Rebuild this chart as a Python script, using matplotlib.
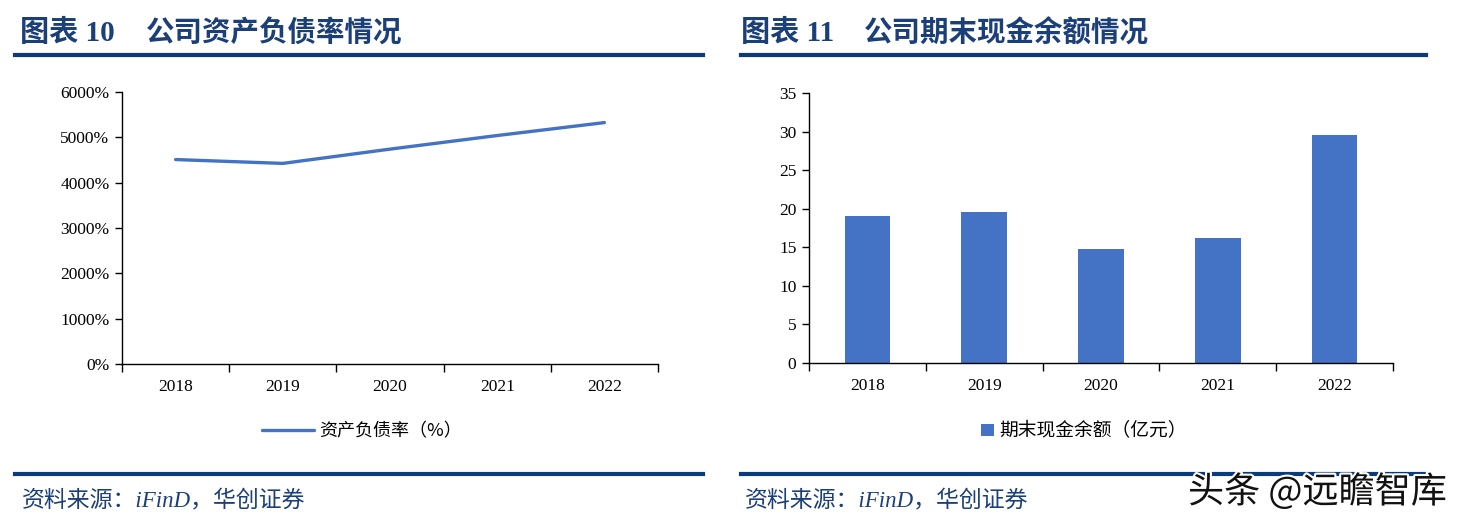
import matplotlib
matplotlib.use("Agg")
import matplotlib.pyplot as plt
from matplotlib.lines import Line2D
from matplotlib.ticker import FuncFormatter
import matplotlib.patheffects as pe

plt.rcParams['font.family'] = ['Liberation Serif', 'Noto Sans CJK SC']

years = ['2018', '2019', '2020', '2021', '2022']
debt_ratio = [4510, 4425, 4740, 5040, 5325]          # 资产负债率 (%)
cash_end = [19.0, 19.6, 14.8, 16.25, 29.5]           # 期末现金余额 (亿元)

blue = '#4472C4'
navy = '#1B3F78'
cjk = ['Noto Sans CJK SC', 'DejaVu Sans']

W, H = 1461, 532
fig = plt.figure(figsize=(W / 100, H / 100), dpi=100)


def fx(px):
    return px / W


def fy(py):
    return 1 - py / H


def style_axis(ax):
    ax.spines['top'].set_visible(False)
    ax.spines['right'].set_visible(False)
    ax.spines['left'].set_linewidth(1.0)
    ax.spines['bottom'].set_linewidth(1.0)
    ax.set_xlim(-0.5, len(years) - 0.5)
    ax.set_xticks([i - 0.5 for i in range(len(years) + 1)])
    ax.set_xticklabels([])
    ax.set_xticks(range(len(years)), minor=True)
    ax.set_xticklabels(years, minor=True)
    ax.tick_params(axis='x', which='major', direction='out', length=6, width=1)
    ax.tick_params(axis='x', which='minor', length=0, pad=11, labelsize=12.5)
    ax.tick_params(axis='y', direction='out', length=5, width=1, pad=4, labelsize=12.5)


# left: 资产负债率
ax1 = fig.add_axes([fx(122), fy(364), fx(658 - 122), (364 - 92) / H])
ax1.plot(range(len(years)), debt_ratio, color=blue, lw=2.4, solid_capstyle='round',
         label='资产负债率（%）')
ax1.set_ylim(0, 6000)
ax1.set_yticks(range(0, 6001, 1000))
ax1.yaxis.set_major_formatter(FuncFormatter(lambda v, p: '%d%%' % v))
style_axis(ax1)
ax1.legend(loc='center', bbox_to_anchor=(fx(362), fy(431)), bbox_transform=fig.transFigure,
           frameon=False, prop={'family': cjk, 'size': 13}, handlelength=2.9, handletextpad=0.3)

# right: 期末现金余额
ax2 = fig.add_axes([fx(809), fy(363), fx(1393 - 809), (363 - 93) / H])
ax2.bar(range(len(years)), cash_end, width=0.39, color=blue, label='期末现金余额（亿元）')
ax2.set_ylim(0, 35)
ax2.set_yticks(range(0, 36, 5))
style_axis(ax2)
ax2.legend(loc='center', bbox_to_anchor=(fx(1084), fy(431)), bbox_transform=fig.transFigure,
           frameon=False, prop={'family': cjk, 'size': 13.5}, handlelength=0.65,
           handleheight=0.65, handletextpad=0.3)

# titles and rules
title_font = ['Liberation Serif', 'Noto Sans CJK SC']
fig.text(fx(20), fy(33), '图表 10', fontsize=21, fontweight='bold', color=navy,
         family=title_font, va='center')
fig.text(fx(146), fy(33), '公司资产负债率情况', fontsize=20.5, fontweight='bold', color=navy,
         family=cjk, va='center')
fig.text(fx(741), fy(33), '图表 11', fontsize=21, fontweight='bold', color=navy,
         family=title_font, va='center')
fig.text(fx(864), fy(33), '公司期末现金余额情况', fontsize=20.5, fontweight='bold', color=navy,
         family=cjk, va='center')

for x0, x1 in [(15, 703), (741, 1426)]:
    for y in (55, 474):
        fig.add_artist(Line2D([fx(x0), fx(x1)], [fy(y), fy(y)], color='#0C3B7C', lw=3.0))

src = '资料来源：iFinD，华创证券'
fig.text(fx(22), fy(500), src, fontsize=16.5, color=navy, family=title_font,
         style='italic', va='center')
fig.text(fx(745), fy(500), src, fontsize=16.5, color=navy, family=title_font,
         style='italic', va='center')

fig.text(fx(1447), fy(492), '头条 @远瞻智库', fontsize=26, color='#111111', family=cjk,
         ha='right', va='center',
         path_effects=[pe.withStroke(linewidth=3, foreground='white')])

fig.savefig('out.png', dpi=100)
